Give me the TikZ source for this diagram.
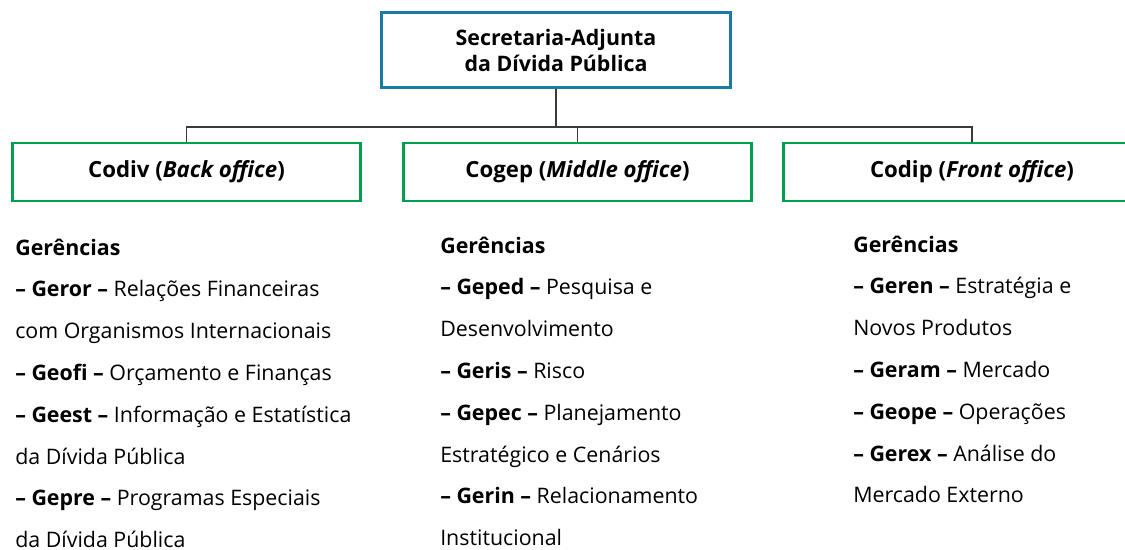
\documentclass[tikz,border=0pt]{standalone}
\usepackage{fontspec}
\setmainfont{Open Sans}
\usetikzlibrary{positioning}
\definecolor{sablue}{HTML}{1B7AA4}
\definecolor{cogreen}{HTML}{00A04E}
\definecolor{linegray}{HTML}{3A3A3A}

\begin{document}
\begin{tikzpicture}[x=0.025cm,y=-0.025cm,
  topbox/.style={draw=sablue,line width=2.1pt,minimum width=8.7cm,minimum height=1.875cm,
    align=center,font=\fontsize{15.2}{18.5}\selectfont\bfseries},
  cobox/.style={draw=cogreen,line width=2.1pt,minimum width=8.675cm,minimum height=1.45cm,
    font=\fontsize{15.8}{18}\selectfont\bfseries},
  conn/.style={draw=linegray,line width=0.75pt},
  item/.style={anchor=base west,inner sep=0pt,font=\fontsize{15.2}{18}\selectfont}]
\useasboundingbox (0,0) rectangle (1125,549);

% boxes
\node[topbox](sec) at (556,50) {Secretaria-Adjunta\\da Dívida Pública};
\node[cobox](codiv) at (186.5,172) {Codiv (\textit{Back office})};
\node[cobox](cogep) at (577.5,172) {Cogep (\textit{Middle office})};
\node[cobox,minimum width=9.4cm](codip) at (972,172) {Codip (\textit{Front office})};

% connectors
\coordinate (bar) at (557,127);
\draw[conn](sec.south)--(sec.south |- bar);
\draw[conn](codiv.north)|-(bar)-|(codip.north);
\draw[conn](cogep.north)--(cogep.north |- bar);

% lists
\foreach \t [count=\i from 0] in {\textbf{Gerências},
  \textbf{– Geror –} Relações Financeiras,
  com Organismos Internacionais,
  \textbf{– Geofi –} Orçamento e Finanças,
  \textbf{– Geest –} Informação e Estatística,
  da Dívida Pública,
  \textbf{– Gepre –} Programas Especiais,
  da Dívida Pública}
  \node[item](a\i) at (15,255+41.8*\i) {\t};

\foreach \t [count=\i from 0] in {\textbf{Gerências},
  \textbf{– Geped –} Pesquisa e,
  Desenvolvimento,
  \textbf{– Geris –} Risco,
  \textbf{– Gepec –} Planejamento,
  Estratégico e Cenários,
  \textbf{– Gerin –} Relacionamento,
  Institucional}
  \node[item](b\i) at (440,253+41.8*\i) {\t};

\foreach \t [count=\i from 0] in {\textbf{Gerências},
  \textbf{– Geren –} Estratégia e,
  Novos Produtos,
  \textbf{– Geram –} Mercado,
  \textbf{– Geope –} Operações,
  \textbf{– Gerex –} Análise do,
  Mercado Externo}
  \node[item](c\i) at (853,252+41.8*\i) {\t};

\end{tikzpicture}
\end{document}
